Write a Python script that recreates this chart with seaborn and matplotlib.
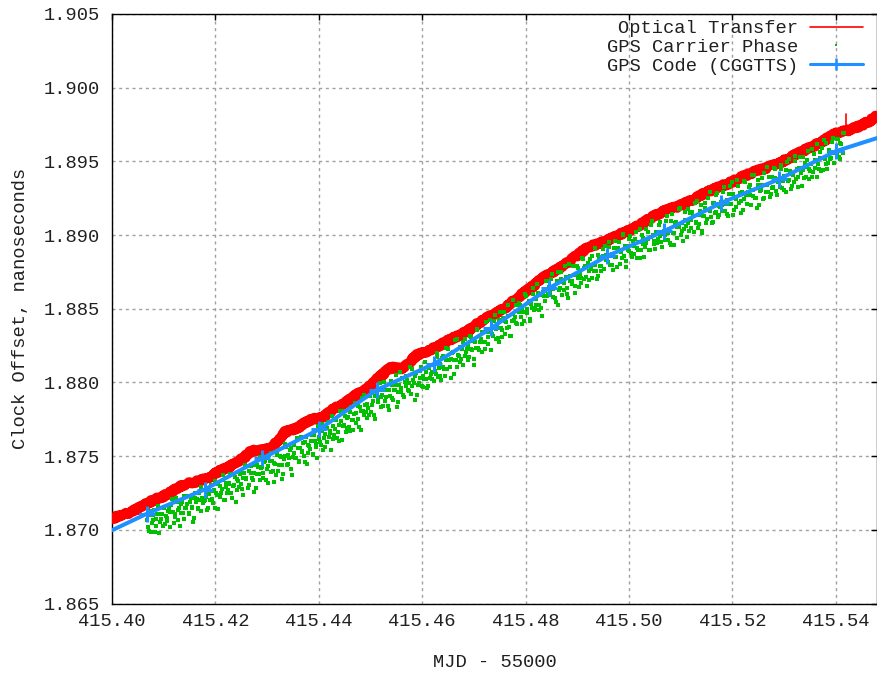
import matplotlib
matplotlib.use("Agg")
import matplotlib.pyplot as plt
from matplotlib.lines import Line2D
from matplotlib.ticker import FormatStrFormatter
import seaborn as sns

# ---------------- data ----------------
x_ticks = [415.40, 415.42, 415.44, 415.46, 415.48, 415.50, 415.52, 415.54]
y_ticks = [1.865, 1.870, 1.875, 1.880, 1.885, 1.890, 1.895, 1.900, 1.905]
x_limits = [415.40, 415.548]
y_limits = [1.865, 1.905]

series_labels = ["Optical Transfer", "GPS Carrier Phase", "GPS Code (CGGTTS)"]
x_label = "MJD - 55000"
y_label = "Clock Offset, nanoseconds"

optical_x = [415.40000, 415.40161, 415.40323, 415.40483, 415.40643, 415.40805, 415.40966, 415.41128,
             415.41289, 415.41450, 415.41610, 415.41771, 415.41932, 415.42094, 415.42255, 415.42416,
             415.42576, 415.42641, 415.42705, 415.42899, 415.43092, 415.43221, 415.43349, 415.43479,
             415.43608, 415.43737, 415.43865, 415.43994, 415.44122, 415.44252, 415.44381, 415.44510,
             415.44638, 415.44767, 415.44895, 415.45025, 415.45154, 415.45283, 415.45411, 415.45530,
             415.45648, 415.45778, 415.45907, 415.46132, 415.46357, 415.46519, 415.46680, 415.46841,
             415.47001, 415.47163, 415.47324, 415.47485, 415.47646, 415.47807, 415.47967, 415.48129,
             415.48290, 415.48452, 415.48613, 415.48773, 415.48933, 415.49095, 415.49256, 415.49418,
             415.49579, 415.49740, 415.49900, 415.50061, 415.50222, 415.50447, 415.50672, 415.50930,
             415.51188, 415.51446, 415.51704, 415.51930, 415.52155, 415.52413, 415.52671, 415.52896,
             415.53121, 415.53346, 415.53571, 415.53765, 415.53958, 415.54100, 415.54217, 415.54345,
             415.54474, 415.54638, 415.54802]
optical_y = [1.87076, 1.87099, 1.87114, 1.87140, 1.87173, 1.87202, 1.87223, 1.87253,
             1.87291, 1.87312, 1.87325, 1.87342, 1.87366, 1.87401, 1.87427, 1.87457,
             1.87495, 1.87520, 1.87536, 1.87540, 1.87552, 1.87613, 1.87665, 1.87676,
             1.87695, 1.87727, 1.87750, 1.87757, 1.87772, 1.87810, 1.87840, 1.87863,
             1.87893, 1.87925, 1.87949, 1.87985, 1.88029, 1.88070, 1.88103, 1.88096,
             1.88097, 1.88146, 1.88187, 1.88217, 1.88255, 1.88288, 1.88312, 1.88342,
             1.88380, 1.88420, 1.88452, 1.88480, 1.88516, 1.88566, 1.88607, 1.88648,
             1.88697, 1.88735, 1.88765, 1.88801, 1.88845, 1.88889, 1.88924, 1.88941,
             1.88965, 1.88994, 1.89015, 1.89039, 1.89071, 1.89121, 1.89162, 1.89192,
             1.89230, 1.89280, 1.89321, 1.89351, 1.89389, 1.89427, 1.89457, 1.89487,
             1.89525, 1.89569, 1.89604, 1.89640, 1.89684, 1.89700, 1.89706, 1.89727,
             1.89740, 1.89770, 1.89808]
optical_spike_x = [415.54205, 415.54205]
optical_spike_y = [1.89705, 1.89820]

code_x = [415.4000, 415.4068, 415.4179, 415.4290, 415.4401, 415.4512, 415.4623, 415.4734,
          415.4846, 415.4957, 415.5068, 415.5179, 415.5290, 415.5401, 415.5480]
code_y = [1.86997, 1.87110, 1.87273, 1.87484, 1.87682, 1.87949, 1.88126, 1.88369,
          1.88641, 1.88856, 1.89026, 1.89219, 1.89378, 1.89570, 1.89658]

carrier_x_a = [
    415.4068, 415.4071, 415.4074, 415.4077, 415.4080, 415.4083, 415.4086, 415.4089, 415.4092, 415.4095,
    415.4098, 415.4101, 415.4104, 415.4107, 415.4110, 415.4113, 415.4116, 415.4119, 415.4122, 415.4125,
    415.4128, 415.4131, 415.4134, 415.4137, 415.4140, 415.4143, 415.4146, 415.4149, 415.4152, 415.4155,
    415.4158, 415.4161, 415.4164, 415.4167, 415.4170, 415.4173, 415.4176, 415.4179, 415.4182, 415.4185,
    415.4188, 415.4191, 415.4194, 415.4197, 415.4200, 415.4203, 415.4206, 415.4209, 415.4212, 415.4215,
    415.4218, 415.4221, 415.4224, 415.4227, 415.4230, 415.4233, 415.4236, 415.4239, 415.4242, 415.4245,
    415.4248, 415.4251, 415.4254, 415.4257, 415.4260, 415.4263, 415.4266, 415.4269, 415.4272, 415.4275,
    415.4278, 415.4281, 415.4284, 415.4287, 415.4290, 415.4293, 415.4296, 415.4299, 415.4302, 415.4305,
    415.4308, 415.4311, 415.4314, 415.4317, 415.4320, 415.4323, 415.4326, 415.4329, 415.4332, 415.4335,
    415.4338, 415.4341, 415.4344, 415.4347, 415.4350, 415.4353, 415.4356, 415.4359, 415.4362, 415.4365,
    415.4368, 415.4371, 415.4374, 415.4377, 415.4380, 415.4383, 415.4386, 415.4389, 415.4392, 415.4395,
    415.4398, 415.4401, 415.4404, 415.4407, 415.4410, 415.4413, 415.4416, 415.4419, 415.4422, 415.4425,
    415.4428, 415.4431, 415.4434, 415.4437, 415.4440, 415.4443, 415.4446, 415.4449, 415.4452, 415.4455,
    415.4458, 415.4461, 415.4464, 415.4467, 415.4470, 415.4473, 415.4476, 415.4479, 415.4482, 415.4485,
    415.4488, 415.4491, 415.4494, 415.4497, 415.4500, 415.4503, 415.4506, 415.4509, 415.4512, 415.4515,
    415.4518, 415.4521, 415.4524, 415.4527, 415.4530, 415.4533, 415.4536, 415.4539, 415.4542, 415.4545,
    415.4548, 415.4551, 415.4554, 415.4557, 415.4560, 415.4563, 415.4566, 415.4569, 415.4572, 415.4575,
    415.4578, 415.4581, 415.4584, 415.4587, 415.4590, 415.4593, 415.4596, 415.4599, 415.4602, 415.4605,
    415.4608, 415.4611, 415.4614, 415.4617, 415.4620, 415.4623, 415.4626, 415.4629, 415.4632, 415.4635,
    415.4638, 415.4641, 415.4644, 415.4647, 415.4650, 415.4653, 415.4656, 415.4659, 415.4662, 415.4665,
    415.4668, 415.4671, 415.4674, 415.4677, 415.4680, 415.4683, 415.4686, 415.4689, 415.4692, 415.4695,
    415.4698, 415.4701, 415.4704, 415.4707, 415.4710, 415.4713, 415.4716, 415.4719, 415.4722, 415.4725,
    415.4728, 415.4731, 415.4734, 415.4737, 415.4740, 415.4743, 415.4746, 415.4749, 415.4752, 415.4755,
    415.4758, 415.4761, 415.4764, 415.4767, 415.4770, 415.4773, 415.4776, 415.4779, 415.4782, 415.4785,
    415.4788, 415.4791, 415.4794, 415.4797, 415.4800, 415.4803, 415.4806, 415.4809, 415.4812, 415.4815,
    415.4818, 415.4821, 415.4824, 415.4827, 415.4830, 415.4833, 415.4836, 415.4839, 415.4842, 415.4845,
    415.4848, 415.4851, 415.4854, 415.4857, 415.4860, 415.4863, 415.4866, 415.4869, 415.4872, 415.4875,
    415.4878, 415.4881, 415.4884, 415.4887, 415.4890, 415.4893, 415.4896, 415.4899, 415.4902, 415.4905,
    415.4908, 415.4911, 415.4914, 415.4917, 415.4920, 415.4923, 415.4926, 415.4929, 415.4932, 415.4935,
    415.4938, 415.4941, 415.4944, 415.4947, 415.4950, 415.4953, 415.4956, 415.4959, 415.4962, 415.4965,
    415.4968, 415.4971, 415.4974, 415.4977, 415.4980, 415.4983, 415.4986, 415.4989, 415.4992, 415.4995,
    415.4998, 415.5001, 415.5004, 415.5007, 415.5010, 415.5013, 415.5016, 415.5019, 415.5022, 415.5025,
    415.5028, 415.5031, 415.5034, 415.5037, 415.5040, 415.5043, 415.5046, 415.5049, 415.5052, 415.5055,
    415.5058, 415.5061, 415.5064, 415.5067, 415.5070, 415.5073, 415.5076, 415.5079, 415.5082, 415.5085,
    415.5088, 415.5091, 415.5094, 415.5097, 415.5100, 415.5103, 415.5106, 415.5109, 415.5112, 415.5115,
    415.5118, 415.5121, 415.5124, 415.5127, 415.5130, 415.5133, 415.5136, 415.5139, 415.5142, 415.5145,
    415.5148, 415.5151, 415.5154, 415.5157, 415.5160, 415.5163, 415.5166, 415.5169, 415.5172, 415.5175,
    415.5178, 415.5181, 415.5184, 415.5187, 415.5190, 415.5193, 415.5196, 415.5199, 415.5202, 415.5205,
    415.5208, 415.5211, 415.5214, 415.5217, 415.5220, 415.5223, 415.5226, 415.5229, 415.5232, 415.5235,
    415.5238, 415.5241, 415.5244, 415.5247, 415.5250, 415.5253, 415.5256, 415.5259, 415.5262, 415.5265,
    415.5268, 415.5271, 415.5274, 415.5277, 415.5280, 415.5283, 415.5286, 415.5289, 415.5292, 415.5295,
    415.5298, 415.5301, 415.5304, 415.5307, 415.5310, 415.5313, 415.5316, 415.5319, 415.5322, 415.5325,
    415.5328, 415.5331, 415.5334, 415.5337, 415.5340, 415.5343, 415.5346, 415.5349, 415.5352, 415.5355,
    415.5358, 415.5361, 415.5364, 415.5367, 415.5370, 415.5373, 415.5376, 415.5379, 415.5382, 415.5385,
    415.5388, 415.5391, 415.5394, 415.5397, 415.5400, 415.5403, 415.5406, 415.5409, 415.5412, 415.5415,
]
carrier_y_a = [
    1.87065, 1.86994, 1.87129, 1.87043, 1.87098, 1.86982, 1.87076, 1.87161, 1.87050, 1.87110,
    1.87024, 1.87149, 1.87093, 1.87057, 1.87147, 1.87121, 1.87211, 1.87045, 1.87104, 1.87189,
    1.87133, 1.87023, 1.87172, 1.87111, 1.87231, 1.87145, 1.87175, 1.87104, 1.87213, 1.87148,
    1.87082, 1.87252, 1.87206, 1.87141, 1.87200, 1.87289, 1.87184,
    1.87203, 1.87259, 1.87149, 1.87240, 1.87306, 1.87207, 1.87267, 1.87148, 1.87239, 1.87309,
    1.87220, 1.87276, 1.87371, 1.87202, 1.87318, 1.87269, 1.87309, 1.87250, 1.87376, 1.87306,
    1.87187, 1.87348, 1.87293, 1.87379, 1.87280, 1.87351, 1.87441, 1.87342, 1.87283, 1.87398,
    1.87434, 1.87335, 1.87385, 1.87286, 1.87437, 1.87378, 1.87493,
    1.87424, 1.87349, 1.87470, 1.87410, 1.87320, 1.87466, 1.87521, 1.87401, 1.87452, 1.87372,
    1.87508, 1.87443, 1.87493, 1.87344, 1.87479, 1.87579, 1.87440, 1.87510, 1.87540, 1.87416,
    1.87496, 1.87576, 1.87487, 1.87557, 1.87467, 1.87628, 1.87538, 1.87503, 1.87599, 1.87449,
    1.87575, 1.87545, 1.87640, 1.87506, 1.87606, 1.87581, 1.87702,
    1.87632, 1.87574, 1.87716, 1.87624, 1.87561, 1.87688, 1.87630, 1.87673, 1.87775, 1.87617,
    1.87684, 1.87751, 1.87664, 1.87601, 1.87738, 1.87705, 1.87803, 1.87665, 1.87757, 1.87699,
    1.87801, 1.87744, 1.87676, 1.87863, 1.87790, 1.87753, 1.87830, 1.87677, 1.87809, 1.87916,
    1.87799, 1.87856, 1.87778, 1.87905, 1.87848, 1.87780, 1.87907,
    1.87919, 1.87864, 1.87999, 1.87903, 1.87843, 1.87963, 1.87903, 1.87837, 1.87947, 1.88012,
    1.87892, 1.87947, 1.87986, 1.87831, 1.87936, 1.88071, 1.87960, 1.87915, 1.88000, 1.88045,
    1.87950, 1.87999, 1.87919, 1.88089, 1.87994, 1.88043, 1.87913, 1.87993, 1.88078, 1.87978,
    1.88047, 1.88142, 1.88022, 1.87977, 1.88096, 1.88056, 1.88021,
    1.88116, 1.88058, 1.88199, 1.88101, 1.88042, 1.88169, 1.88105, 1.88042, 1.88154, 1.88230,
    1.88102, 1.88158, 1.88205, 1.88056, 1.88153, 1.88295, 1.88181, 1.88138, 1.88224, 1.88271,
    1.88177, 1.88229, 1.88150, 1.88312, 1.88229, 1.88280, 1.88157, 1.88233, 1.88365, 1.88221,
    1.88293, 1.88345, 1.88271, 1.88228, 1.88344, 1.88311, 1.88427,
    1.88364, 1.88316, 1.88459, 1.88361, 1.88303, 1.88421, 1.88368, 1.88305, 1.88478, 1.88415,
    1.88368, 1.88450, 1.88317, 1.88415, 1.88557, 1.88444, 1.88402, 1.88484, 1.88536, 1.88444,
    1.88491, 1.88418, 1.88586, 1.88498, 1.88555, 1.88428, 1.88505, 1.88638, 1.88495, 1.88567,
    1.88610, 1.88527, 1.88504, 1.88617, 1.88589, 1.88686, 1.88584,
    1.88646, 1.88592, 1.88733, 1.88633, 1.88574, 1.88690, 1.88526, 1.88642, 1.88752, 1.88683,
    1.88629, 1.88715, 1.88601, 1.88807, 1.88687, 1.88668, 1.88729, 1.88610, 1.88791, 1.88706,
    1.88737, 1.88678, 1.88839, 1.88775, 1.88715, 1.88811, 1.88692, 1.88768, 1.88859, 1.88755,
    1.88800, 1.88701, 1.88867, 1.88793, 1.88759, 1.88859, 1.88925,
    1.88866, 1.88816, 1.88950, 1.88855, 1.88794, 1.88909, 1.88854, 1.88783, 1.88953, 1.88892,
    1.88842, 1.89001, 1.88926, 1.88821, 1.88900, 1.88975, 1.88879, 1.88959, 1.88869, 1.89018,
    1.88913, 1.88952, 1.88842, 1.89002, 1.88941, 1.88916, 1.89040, 1.88970, 1.88900, 1.89069,
    1.88999, 1.88958, 1.89023, 1.88943, 1.89067, 1.88997, 1.88921,
    1.89026, 1.88966, 1.89126, 1.89017, 1.88947, 1.89097, 1.89017, 1.88933, 1.89088, 1.89058,
    1.89178, 1.89003, 1.89084, 1.89044, 1.89159, 1.88989, 1.89080, 1.89150, 1.89050, 1.89130,
    1.89215, 1.89091, 1.89051, 1.89136, 1.89201, 1.89017, 1.89127, 1.89182, 1.89112, 1.89252,
    1.89163, 1.89083, 1.89218, 1.89148, 1.89269, 1.89124, 1.89199,
    1.89224, 1.89163, 1.89323, 1.89212, 1.89141, 1.89281, 1.89210, 1.89359, 1.89133, 1.89253,
    1.89192, 1.89336, 1.89286, 1.89230, 1.89169, 1.89369, 1.89273, 1.89212, 1.89326, 1.89271,
    1.89410, 1.89309, 1.89249, 1.89183, 1.89377, 1.89302, 1.89341, 1.89245, 1.89419, 1.89294,
    1.89338, 1.89397, 1.89282, 1.89321, 1.89455, 1.89390, 1.89269,
    1.89378, 1.89323, 1.89478, 1.89369, 1.89304, 1.89444, 1.89369, 1.89519, 1.89310, 1.89415,
    1.89360, 1.89500, 1.89450, 1.89395, 1.89531, 1.89336, 1.89441, 1.89491, 1.89391, 1.89572,
    1.89447, 1.89482, 1.89392, 1.89552, 1.89458, 1.89618, 1.89448, 1.89523, 1.89593, 1.89444,
    1.89519, 1.89624, 1.89489, 1.89579, 1.89525, 1.89660, 1.89490,
    1.89560, 1.89655, 1.89530, 1.89626, 1.89571, 1.89691,
]
carrier_x_b = [
    415.4070, 415.4073, 415.4076, 415.4079, 415.4082, 415.4085, 415.4088, 415.4091, 415.4094, 415.4097,
    415.4100, 415.4103, 415.4106, 415.4109, 415.4112, 415.4115, 415.4118, 415.4121, 415.4124, 415.4127,
    415.4130, 415.4133, 415.4136, 415.4139, 415.4142, 415.4145, 415.4148, 415.4151, 415.4154, 415.4157,
    415.4160, 415.4163, 415.4166, 415.4169, 415.4172, 415.4175, 415.4178, 415.4181, 415.4184, 415.4187,
    415.4190, 415.4193, 415.4196, 415.4199, 415.4202, 415.4205, 415.4208, 415.4211, 415.4214, 415.4217,
    415.4220, 415.4223, 415.4226, 415.4229, 415.4232, 415.4235, 415.4238, 415.4241, 415.4244, 415.4247,
    415.4250, 415.4253, 415.4256, 415.4259, 415.4262, 415.4265, 415.4268, 415.4271, 415.4274, 415.4277,
    415.4280, 415.4283, 415.4286, 415.4289, 415.4292, 415.4295, 415.4298, 415.4301, 415.4304, 415.4307,
    415.4310, 415.4313, 415.4316, 415.4319, 415.4322, 415.4325, 415.4328, 415.4331, 415.4334, 415.4337,
    415.4340, 415.4343, 415.4346, 415.4349, 415.4352, 415.4355, 415.4358, 415.4361, 415.4364, 415.4367,
    415.4370, 415.4373, 415.4376, 415.4379, 415.4382, 415.4385, 415.4388, 415.4391, 415.4394, 415.4397,
    415.4400, 415.4403, 415.4406, 415.4409, 415.4412, 415.4415, 415.4418, 415.4421, 415.4424, 415.4427,
    415.4430, 415.4433, 415.4436, 415.4439, 415.4442, 415.4445, 415.4448, 415.4451, 415.4454, 415.4457,
    415.4460, 415.4463, 415.4466, 415.4469, 415.4472, 415.4475, 415.4478, 415.4481, 415.4484, 415.4487,
    415.4490, 415.4493, 415.4496, 415.4499, 415.4502, 415.4505, 415.4508, 415.4511, 415.4514, 415.4517,
    415.4520, 415.4523, 415.4526, 415.4529, 415.4532, 415.4535, 415.4538, 415.4541, 415.4544, 415.4547,
    415.4550, 415.4553, 415.4556, 415.4559, 415.4562, 415.4565, 415.4568, 415.4571, 415.4574, 415.4577,
    415.4580, 415.4583, 415.4586, 415.4589, 415.4592, 415.4595, 415.4598, 415.4601, 415.4604, 415.4607,
    415.4610, 415.4613, 415.4616, 415.4619, 415.4622, 415.4625, 415.4628, 415.4631, 415.4634, 415.4637,
    415.4640, 415.4643, 415.4646, 415.4649, 415.4652, 415.4655, 415.4658, 415.4661, 415.4664, 415.4667,
    415.4670, 415.4673, 415.4676, 415.4679, 415.4682, 415.4685, 415.4688, 415.4691, 415.4694, 415.4697,
    415.4700, 415.4703, 415.4706, 415.4709, 415.4712, 415.4715, 415.4718, 415.4721, 415.4724, 415.4727,
    415.4730, 415.4733, 415.4736, 415.4739, 415.4742, 415.4745, 415.4748, 415.4751, 415.4754, 415.4757,
    415.4760, 415.4763, 415.4766, 415.4769, 415.4772, 415.4775, 415.4778, 415.4781, 415.4784, 415.4787,
    415.4790, 415.4793, 415.4796, 415.4799, 415.4802, 415.4805, 415.4808, 415.4811, 415.4814, 415.4817,
    415.4820, 415.4823, 415.4826, 415.4829, 415.4832, 415.4835, 415.4838, 415.4841, 415.4844, 415.4847,
    415.4850, 415.4853, 415.4856, 415.4859, 415.4862, 415.4865, 415.4868, 415.4871, 415.4874, 415.4877,
    415.4880, 415.4883, 415.4886, 415.4889, 415.4892, 415.4895, 415.4898, 415.4901, 415.4904, 415.4907,
    415.4910, 415.4913, 415.4916, 415.4919, 415.4922, 415.4925, 415.4928, 415.4931, 415.4934, 415.4937,
    415.4940, 415.4943, 415.4946, 415.4949, 415.4952, 415.4955, 415.4958, 415.4961, 415.4964, 415.4967,
    415.4970, 415.4973, 415.4976, 415.4979, 415.4982, 415.4985, 415.4988, 415.4991, 415.4994, 415.4997,
    415.5000, 415.5003, 415.5006, 415.5009, 415.5012, 415.5015, 415.5018, 415.5021, 415.5024, 415.5027,
    415.5030, 415.5033, 415.5036, 415.5039, 415.5042, 415.5045, 415.5048, 415.5051, 415.5054, 415.5057,
    415.5060, 415.5063, 415.5066, 415.5069, 415.5072, 415.5075, 415.5078, 415.5081, 415.5084, 415.5087,
    415.5090, 415.5093, 415.5096, 415.5099, 415.5102, 415.5105, 415.5108, 415.5111, 415.5114, 415.5117,
    415.5120, 415.5123, 415.5126, 415.5129, 415.5132, 415.5135, 415.5138, 415.5141, 415.5144, 415.5147,
    415.5150, 415.5153, 415.5156, 415.5159, 415.5162, 415.5165, 415.5168, 415.5171, 415.5174, 415.5177,
    415.5180, 415.5183, 415.5186, 415.5189, 415.5192, 415.5195, 415.5198, 415.5201, 415.5204, 415.5207,
    415.5210, 415.5213, 415.5216, 415.5219, 415.5222, 415.5225, 415.5228, 415.5231, 415.5234, 415.5237,
    415.5240, 415.5243, 415.5246, 415.5249, 415.5252, 415.5255, 415.5258, 415.5261, 415.5264, 415.5267,
    415.5270, 415.5273, 415.5276, 415.5279, 415.5282, 415.5285, 415.5288, 415.5291, 415.5294, 415.5297,
    415.5300, 415.5303, 415.5306, 415.5309, 415.5312, 415.5315, 415.5318, 415.5321, 415.5324, 415.5327,
    415.5330, 415.5333, 415.5336, 415.5339, 415.5342, 415.5345, 415.5348, 415.5351, 415.5354, 415.5357,
    415.5360, 415.5363, 415.5366, 415.5369, 415.5372, 415.5375, 415.5378, 415.5381, 415.5384, 415.5387,
    415.5390, 415.5393, 415.5396, 415.5399, 415.5402, 415.5405, 415.5408, 415.5411, 415.5414, 415.5417,
]
carrier_y_b = [
    1.87019, 1.87098, 1.86983, 1.87067, 1.87132, 1.87026, 1.87105, 1.86975, 1.87074, 1.87104,
    1.87153, 1.87038, 1.87082, 1.87131, 1.87021, 1.87165, 1.87120, 1.87089, 1.87213, 1.87068,
    1.87147, 1.87117, 1.87186, 1.87070, 1.87150, 1.87229, 1.87114, 1.87188, 1.87157, 1.87052,
    1.87216, 1.87191, 1.87150, 1.87250, 1.87129, 1.87218, 1.87198,
    1.87222, 1.87133, 1.87278, 1.87199, 1.87260, 1.87181, 1.87331, 1.87247, 1.87138, 1.87298,
    1.87249, 1.87335, 1.87205, 1.87291, 1.87247, 1.87318, 1.87378, 1.87214, 1.87300, 1.87360,
    1.87271, 1.87332, 1.87387, 1.87308, 1.87239, 1.87385, 1.87350, 1.87436, 1.87307, 1.87387,
    1.87353, 1.87254, 1.87439, 1.87380, 1.87426, 1.87337, 1.87422,
    1.87388, 1.87458, 1.87339, 1.87434, 1.87509, 1.87395, 1.87465, 1.87325, 1.87446, 1.87516,
    1.87402, 1.87502, 1.87442, 1.87378, 1.87498, 1.87563, 1.87444, 1.87489, 1.87554, 1.87370,
    1.87520, 1.87485, 1.87626, 1.87461, 1.87556, 1.87527, 1.87587, 1.87462, 1.87628, 1.87518,
    1.87569, 1.87604, 1.87514, 1.87640, 1.87565, 1.87490, 1.87616,
    1.87596, 1.87668, 1.87540, 1.87653, 1.87595, 1.87732, 1.87654, 1.87542, 1.87704, 1.87646,
    1.87743, 1.87625, 1.87708, 1.87805, 1.87607, 1.87709, 1.87772, 1.87694, 1.87766, 1.87673,
    1.87830, 1.87743, 1.87785, 1.87722, 1.87839, 1.87697, 1.87804, 1.87896, 1.87778, 1.87850,
    1.87758, 1.87825, 1.87912, 1.87799, 1.87877, 1.87749, 1.87911,
    1.87878, 1.87953, 1.87833, 1.87917, 1.88002, 1.87872, 1.87947, 1.87816, 1.87906, 1.87981,
    1.87881, 1.87946, 1.88050, 1.87865, 1.87980, 1.87935, 1.88029, 1.87899, 1.87974, 1.88019,
    1.87939, 1.88108, 1.87978, 1.88018, 1.87878, 1.88062, 1.87982, 1.88027, 1.88107, 1.87967,
    1.88026, 1.88071, 1.87961, 1.88121, 1.88030, 1.88070, 1.88010,
    1.88080, 1.88172, 1.88038, 1.88125, 1.88016, 1.88178, 1.88094, 1.88231, 1.88093, 1.88154,
    1.88031, 1.88197, 1.88149, 1.88285, 1.88107, 1.88189, 1.88240, 1.88157, 1.88118, 1.88295,
    1.88206, 1.88248, 1.88174, 1.88306, 1.88218, 1.88119, 1.88271, 1.88357, 1.88234, 1.88275,
    1.88207, 1.88344, 1.88275, 1.88407, 1.88258, 1.88345, 1.88221,
    1.88328, 1.88420, 1.88298, 1.88380, 1.88277, 1.88475, 1.88357, 1.88434, 1.88327, 1.88409,
    1.88527, 1.88379, 1.88316, 1.88464, 1.88426, 1.88528, 1.88396, 1.88478, 1.88525, 1.88398,
    1.88480, 1.88597, 1.88470, 1.88542, 1.88414, 1.88532, 1.88599, 1.88492, 1.88524, 1.88671,
    1.88494, 1.88591, 1.88448, 1.88631, 1.88553, 1.88685, 1.88603,
    1.88615, 1.88701, 1.88577, 1.88657, 1.88548, 1.88749, 1.88630, 1.88701, 1.88596, 1.88672,
    1.88793, 1.88644, 1.88575, 1.88721, 1.88686, 1.88787, 1.88653, 1.88729, 1.88775, 1.88645,
    1.88706, 1.88847, 1.88703, 1.88789, 1.88654, 1.88755, 1.88836, 1.88712, 1.88798, 1.88909,
    1.88759, 1.88725, 1.88836, 1.88792, 1.88903, 1.88773, 1.88834,
    1.88835, 1.88920, 1.88799, 1.88874, 1.88763, 1.88963, 1.88848, 1.88912, 1.88807, 1.88886,
    1.89006, 1.88855, 1.88785, 1.88925, 1.88889, 1.88994, 1.88853, 1.88928, 1.88973, 1.88842,
    1.88902, 1.89041, 1.88896, 1.88981, 1.88850, 1.88945, 1.89024, 1.88899, 1.88984, 1.89098,
    1.88938, 1.88907, 1.89017, 1.88972, 1.89086, 1.88951, 1.89005,
    1.89000, 1.89095, 1.88965, 1.89041, 1.88931, 1.89141, 1.89016, 1.89082, 1.88977, 1.89057,
    1.89187, 1.89027, 1.88958, 1.89103, 1.89063, 1.89178, 1.89029, 1.89104, 1.89159, 1.89019,
    1.89084, 1.89230, 1.89075, 1.89160, 1.89030, 1.89126, 1.89216, 1.89081, 1.89171, 1.89291,
    1.89122, 1.89087, 1.89217, 1.89157, 1.89283, 1.89133, 1.89193,
    1.89203, 1.89292, 1.89162, 1.89241, 1.89130, 1.89335, 1.89209, 1.89278, 1.89167, 1.89247,
    1.89376, 1.89215, 1.89150, 1.89289, 1.89248, 1.89363, 1.89212, 1.89291, 1.89340, 1.89205,
    1.89264, 1.89408, 1.89253, 1.89337, 1.89206, 1.89306, 1.89390, 1.89254, 1.89343, 1.89463,
    1.89292, 1.89261, 1.89391, 1.89325, 1.89449, 1.89299, 1.89363,
    1.89357, 1.89447, 1.89317, 1.89398, 1.89293, 1.89493, 1.89373, 1.89438, 1.89334, 1.89409,
    1.89539, 1.89379, 1.89324, 1.89454, 1.89420, 1.89530, 1.89385, 1.89460, 1.89510, 1.89381,
    1.89436, 1.89581, 1.89431, 1.89511, 1.89392, 1.89482, 1.89567, 1.89437, 1.89522, 1.89643,
    1.89483, 1.89448, 1.89573, 1.89513, 1.89634, 1.89489, 1.89554,
    1.89549, 1.89649, 1.89519, 1.89620, 1.89555, 1.89690,
]
carrier_x = carrier_x_a + carrier_x_b
carrier_y = carrier_y_a + carrier_y_b

# ---------------- style ----------------
RED = "#ff0000"
GREEN = "#00c000"
BLUE = "#1e90ff"
FS = 13.5

sns.set_theme(style="white")
plt.rcParams["font.family"] = ["Liberation Mono", "DejaVu Sans Mono"]
plt.rcParams["axes.unicode_minus"] = False

W, H = 877, 675
fig = plt.figure(figsize=(W / 100, H / 100), dpi=100)
left_px, right_px, top_px, bottom_px = 112, 877, 14, 603.5
ax = fig.add_axes([left_px / W, 1 - bottom_px / H, (right_px - left_px) / W, (bottom_px - top_px) / H])

# optical transfer (thick noisy band; a fine sketch style gives the ragged edge)
sns.lineplot(x=optical_x, y=optical_y, estimator=None, sort=False, color=RED, lw=7.0,
             ax=ax, zorder=3, legend=False)
ax.lines[-1].set_sketch_params(scale=1.3, length=2.5, randomness=3)
sns.lineplot(x=optical_spike_x, y=optical_spike_y, estimator=None, sort=False, color=RED, lw=1.2,
             ax=ax, zorder=3, legend=False)

# GPS carrier phase (dots)
sns.scatterplot(x=carrier_x, y=carrier_y, color=GREEN, marker="s", s=6.0, linewidth=0,
                ax=ax, zorder=4, legend=False)

# GPS code CGGTTS
sns.lineplot(x=code_x, y=code_y, estimator=None, sort=False, color=BLUE, lw=2.9,
             marker="+", markersize=11, markeredgewidth=2.2, markeredgecolor=BLUE,
             markevery=slice(1, len(code_x) - 1), ax=ax, zorder=5, legend=False)

ax.set_xlim(*x_limits)
ax.set_ylim(*y_limits)
ax.set_xticks(x_ticks)
ax.set_yticks(y_ticks)
ax.xaxis.set_major_formatter(FormatStrFormatter("%.2f"))
ax.yaxis.set_major_formatter(FormatStrFormatter("%.3f"))

ax.grid(True, color="#a0a0a0", lw=1.0, linestyle=(0, (2.2, 2.6)))
ax.set_axisbelow(True)
for s in ax.spines.values():
    s.set_color("black")
    s.set_linewidth(1.0)
    s.set_visible(True)

ax.tick_params(axis="both", which="major", direction="in", length=4.5, width=1.0,
               top=True, right=True, colors="black", labelsize=FS)
ax.tick_params(axis="x", pad=7)
ax.tick_params(axis="y", pad=9)
for lab in ax.get_xticklabels() + ax.get_yticklabels():
    lab.set_color("#202020")

ax.set_xlabel(x_label, fontsize=FS, labelpad=17, color="#202020")
ax.set_ylabel(y_label, fontsize=FS, labelpad=10, color="#202020")

handles = [
    Line2D([], [], color=RED, lw=1.2),
    Line2D([], [], color=GREEN, marker="s", ls="none", markersize=1.6, markeredgewidth=0),
    Line2D([], [], color=BLUE, lw=2.2, marker="+", markersize=9, markeredgewidth=1.8),
]
leg = ax.legend(handles, series_labels, loc="upper right", bbox_to_anchor=(0.9817, 0.9895),
                frameon=False, markerfirst=False, borderpad=0, borderaxespad=0,
                handlelength=2.83, handletextpad=0.65, labelspacing=0.08, fontsize=FS)
for t in leg.get_texts():
    t.set_color("#202020")

fig.savefig("out.png", dpi=100)
